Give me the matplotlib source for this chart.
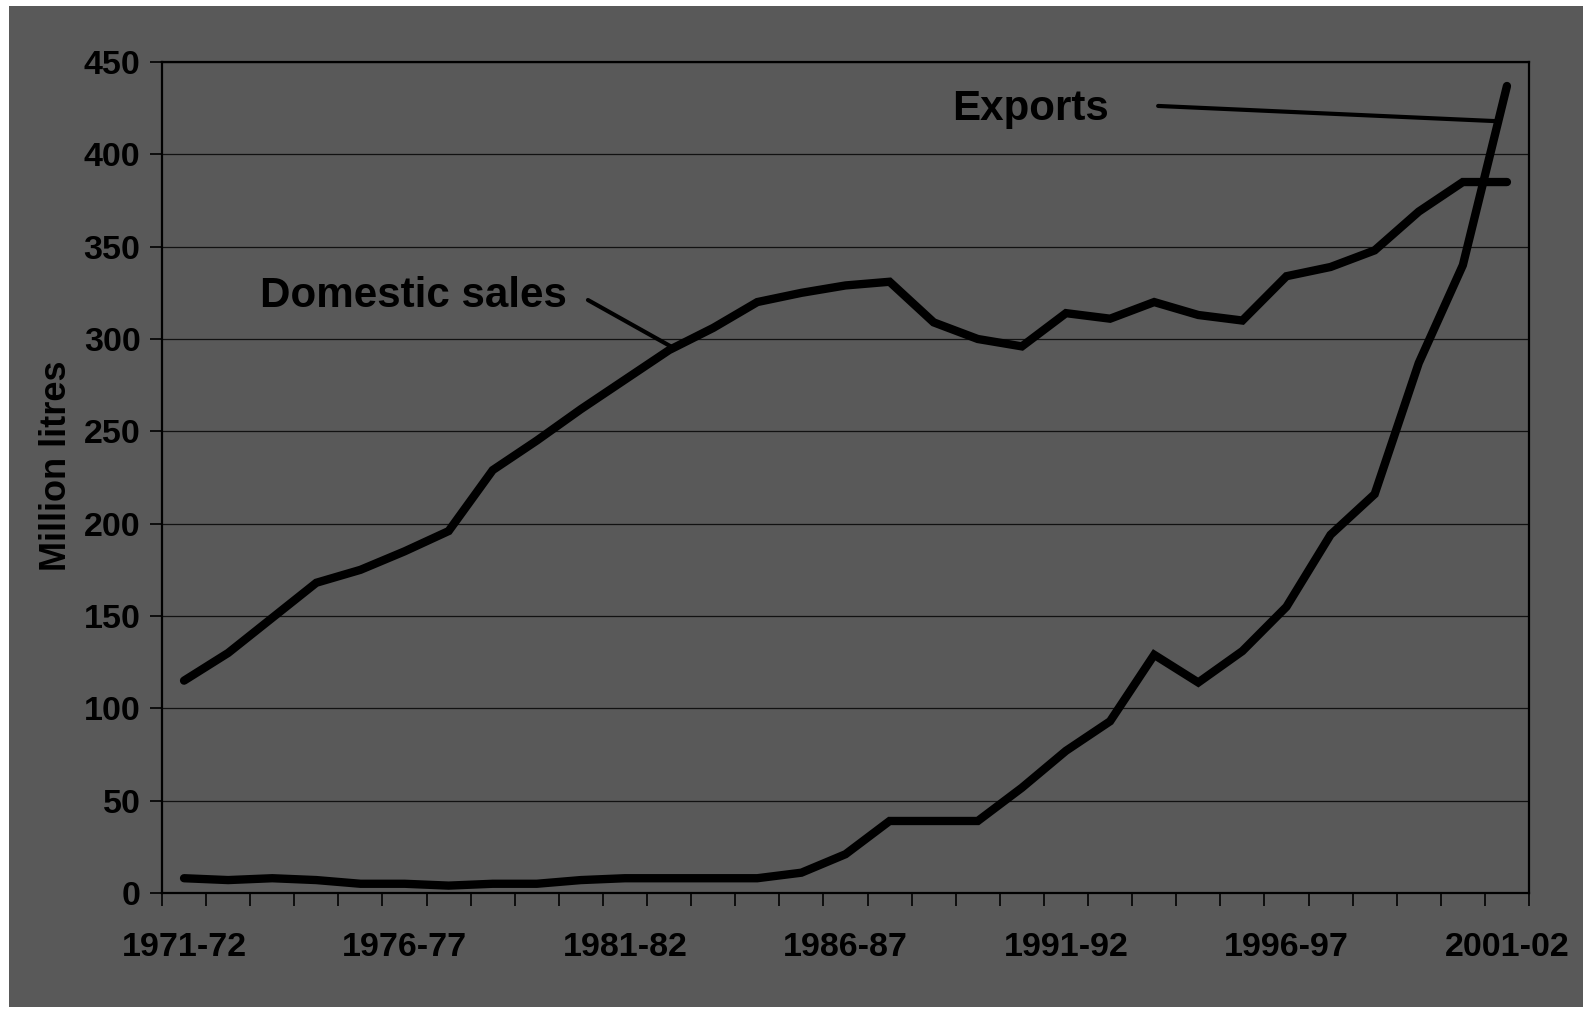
import matplotlib
matplotlib.use("Agg")
import matplotlib.pyplot as plt
from matplotlib.patches import Rectangle

plt.rcParams['font.family'] = ['Liberation Sans', 'DejaVu Sans']
plt.rcParams['font.weight'] = 'bold'

# Financial years 1971-72 .. 2001-02
years = [f"{y}-{str(y + 1)[-2:]}" for y in range(1971, 2002)]

domestic_sales = [115, 130, 149, 168, 175, 185, 196, 229, 245, 262,
                  278, 294, 306, 320, 325, 329, 331, 309, 300, 296,
                  314, 311, 320, 313, 310, 334, 339, 348, 369, 385, 385]

exports = [8, 7, 8, 7, 5, 5, 4, 5, 5, 7,
           8, 8, 8, 8, 11, 21, 39, 39, 39, 57,
           77, 93, 129, 114, 131, 155, 194, 216, 287, 340, 437]

y_ticks = [0, 50, 100, 150, 200, 250, 300, 350, 400, 450]
label_every = 5

BG = '#595959'

fig = plt.figure(figsize=(15.83, 10.09), dpi=100, facecolor='white')
fig.patches.append(Rectangle((9 / 1583, 0.002), 1, 1 - 6 / 1009 - 0.002,
                             transform=fig.transFigure, facecolor=BG,
                             edgecolor='none', zorder=-10))

ax = fig.add_axes([162 / 1583, 1 - 893 / 1009, (1529 - 162) / 1583, (893 - 62) / 1009])
ax.set_facecolor(BG)

x = list(range(len(years)))
ax.plot(x, domestic_sales, color='black', lw=6, solid_joinstyle='miter',
        solid_capstyle='round', zorder=3)
ax.plot(x, exports, color='black', lw=6, solid_joinstyle='miter',
        solid_capstyle='round', zorder=3)

ax.set_xlim(-0.5, len(years) - 0.5)
ax.set_ylim(0, 450)

# y axis
ax.set_yticks(y_ticks)
ax.set_yticklabels([str(v) for v in y_ticks])
ax.yaxis.grid(True, color='#111111', lw=0.9)
ax.set_axisbelow(True)
ax.tick_params(axis='y', direction='out', length=9, width=1.2, color='black',
               labelsize=24.5, pad=6.5, labelcolor='black')

# x axis: labels at every fifth category, ticks between categories
ax.set_xticks([i for i in x if i % label_every == 0])
ax.set_xticklabels([years[i] for i in x if i % label_every == 0])
ax.set_xticks([i - 0.5 for i in range(len(years) + 1)], minor=True)
ax.tick_params(axis='x', which='major', length=0, labelsize=24.5, pad=28,
               labelcolor='black')
ax.tick_params(axis='x', which='minor', direction='out', length=9, width=1.2,
               color='black')

for s in ax.spines.values():
    s.set_color('black')
    s.set_linewidth(1.6)

fig.text(57 / 1583, 1 - 466 / 1009, 'Million litres', rotation=90,
         ha='center', va='center', fontsize=26, fontweight='bold', color='black')

# Series labels with leader lines
ax.text(1.72, 317.3, 'Domestic sales', fontsize=30.3, fontweight='bold',
        color='black', ha='left', va='baseline')
ax.plot([9.16, 11.06], [321.1, 295.7], color='black', lw=3, solid_capstyle='round', zorder=4)

ax.text(17.42, 418.6, 'Exports', fontsize=30.3, fontweight='bold',
        color='black', ha='left', va='baseline')
ax.plot([22.09, 29.73], [426.2, 418.0], color='black', lw=3, solid_capstyle='round', zorder=4)

fig.savefig('out.png', dpi=100, facecolor=fig.get_facecolor())
